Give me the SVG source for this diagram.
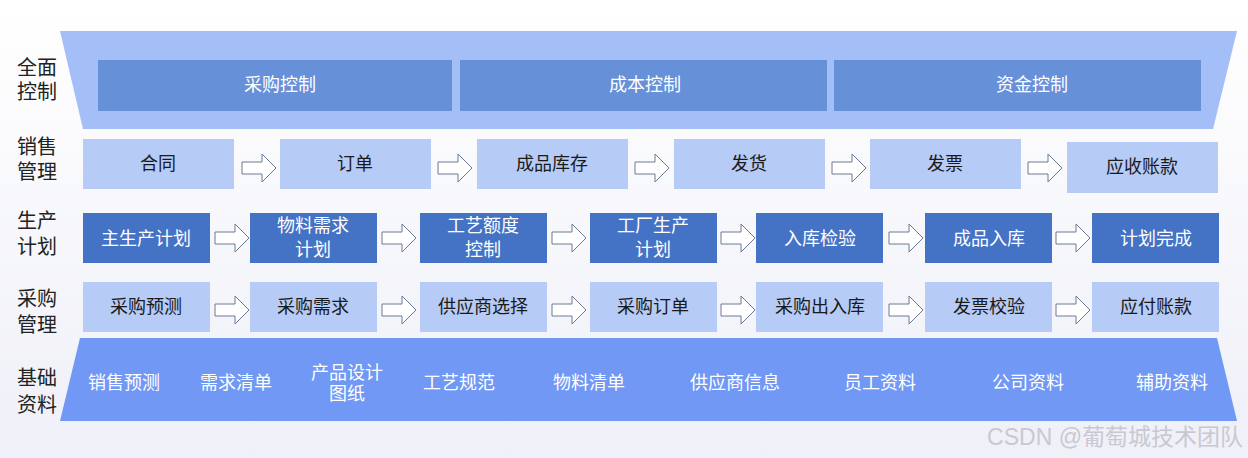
<svg xmlns="http://www.w3.org/2000/svg" xmlns:xlink="http://www.w3.org/1999/xlink" width="1248" height="458" viewBox="0 0 1248 458">
<style>
text{font-family:"Liberation Sans","Noto Sans CJK SC",sans-serif;text-anchor:middle;dominant-baseline:central}
.lbl{font-size:20px;fill:#222;text-anchor:start}
.ctl{fill:#6690d8}
.ctl-t{font-size:18px;fill:#fff}
.sale{fill:#b6cbf5}
.dk{fill:#4472c4}
.dk-t{font-size:18px;fill:#fff}
.lt-t{font-size:18px;fill:#1a1a1a}
.base-t{font-size:18px;fill:#fff}
.arr{fill:#fff;stroke:#6a7a96;stroke-width:1}
</style>
<defs>
<linearGradient id="bg" x1="0" y1="0" x2="0" y2="1">
<stop offset="0" stop-color="#ffffff"/>
<stop offset="1" stop-color="#eff0f8"/>
</linearGradient>
<path id="ar" d="M0,-6 H20 V-14 L34,0 L20,14 V6 H0 Z"/>
</defs>
<rect width="1248" height="458" fill="url(#bg)"/>

<g id="labels">
<text class="lbl" x="17" y="68">全面</text><text class="lbl" x="17" y="92">控制</text>
<text class="lbl" x="17" y="147">销售</text><text class="lbl" x="17" y="172">管理</text>
<text class="lbl" x="17" y="221">生产</text><text class="lbl" x="17" y="247">计划</text>
<text class="lbl" x="17" y="299">采购</text><text class="lbl" x="17" y="325">管理</text>
<text class="lbl" x="17" y="378">基础</text><text class="lbl" x="17" y="405">资料</text>
</g>

<g id="control">
<polygon points="60,31 1237,31 1213,129 83,129" fill="#a4bef8"/>
<g id="n-caigoukongzhi"><rect class="ctl" x="98" y="60" width="354" height="51"/><text class="ctl-t" x="280" y="85">采购控制</text></g>
<g id="n-chengbenkongzhi"><rect class="ctl" x="460" y="60" width="367" height="51"/><text class="ctl-t" x="645" y="85">成本控制</text></g>
<g id="n-zijinkongzhi"><rect class="ctl" x="834" y="60" width="367" height="51"/><text class="ctl-t" x="1032" y="85">资金控制</text></g>
</g>

<g id="sales">
<g id="n-hetong"><rect class="sale" x="83" y="139" width="151" height="50"/><text class="lt-t" x="158" y="164">合同</text></g>
<g id="n-dingdan"><rect class="sale" x="280" y="139" width="151" height="50"/><text class="lt-t" x="355" y="164">订单</text></g>
<g id="n-chengpinkucun"><rect class="sale" x="477" y="139" width="151" height="50"/><text class="lt-t" x="552" y="164">成品库存</text></g>
<g id="n-fahuo"><rect class="sale" x="674" y="139" width="151" height="50"/><text class="lt-t" x="749" y="164">发货</text></g>
<g id="n-fapiao"><rect class="sale" x="870" y="139" width="151" height="50"/><text class="lt-t" x="945" y="164">发票</text></g>
<g id="n-yingshou"><rect class="sale" x="1067" y="142" width="151" height="51"/><text class="lt-t" x="1142" y="167">应收账款</text></g>
</g>

<g id="production">
<g id="n-zhushengchan"><rect class="dk" x="83" y="213" width="127" height="50"/><text class="dk-t" x="146" y="239">主生产计划</text></g>
<g id="n-wuliao"><rect class="dk" x="250" y="213" width="127" height="50"/><text class="dk-t" x="313" y="226">物料需求</text><text class="dk-t" x="313" y="250">计划</text></g>
<g id="n-gongyi"><rect class="dk" x="420" y="213" width="127" height="50"/><text class="dk-t" x="483" y="226">工艺额度</text><text class="dk-t" x="483" y="250">控制</text></g>
<g id="n-gongchang"><rect class="dk" x="590" y="213" width="127" height="50"/><text class="dk-t" x="653" y="226">工厂生产</text><text class="dk-t" x="653" y="250">计划</text></g>
<g id="n-rukujianyan"><rect class="dk" x="756" y="213" width="127" height="50"/><text class="dk-t" x="820" y="239">入库检验</text></g>
<g id="n-chengpinruku"><rect class="dk" x="925" y="213" width="127" height="50"/><text class="dk-t" x="989" y="239">成品入库</text></g>
<g id="n-jihuawancheng"><rect class="dk" x="1092" y="213" width="127" height="50"/><text class="dk-t" x="1156" y="239">计划完成</text></g>
</g>

<g id="purchase">
<g id="n-caigouyuce"><rect class="sale" x="83" y="282" width="127" height="50"/><text class="lt-t" x="146" y="307">采购预测</text></g>
<g id="n-caigouxuqiu"><rect class="sale" x="250" y="282" width="127" height="50"/><text class="lt-t" x="313" y="307">采购需求</text></g>
<g id="n-gongyingshang"><rect class="sale" x="420" y="282" width="127" height="50"/><text class="lt-t" x="483" y="307">供应商选择</text></g>
<g id="n-caigoudingdan"><rect class="sale" x="590" y="282" width="127" height="50"/><text class="lt-t" x="653" y="307">采购订单</text></g>
<g id="n-caigouchuruku"><rect class="sale" x="756" y="282" width="127" height="50"/><text class="lt-t" x="820" y="307">采购出入库</text></g>
<g id="n-fapiaojiaoyan"><rect class="sale" x="925" y="282" width="127" height="50"/><text class="lt-t" x="989" y="307">发票校验</text></g>
<g id="n-yingfu"><rect class="sale" x="1092" y="282" width="127" height="50"/><text class="lt-t" x="1156" y="307">应付账款</text></g>
</g>

<g id="connectors">
<use xlink:href="#ar" class="arr" x="242" y="168"/>
<use xlink:href="#ar" class="arr" x="438" y="168"/>
<use xlink:href="#ar" class="arr" x="635" y="168"/>
<use xlink:href="#ar" class="arr" x="832" y="168"/>
<use xlink:href="#ar" class="arr" x="1028" y="168"/>
<use xlink:href="#ar" class="arr" x="215" y="238"/>
<use xlink:href="#ar" class="arr" x="382" y="238"/>
<use xlink:href="#ar" class="arr" x="552" y="238"/>
<use xlink:href="#ar" class="arr" x="721" y="238"/>
<use xlink:href="#ar" class="arr" x="889" y="238"/>
<use xlink:href="#ar" class="arr" x="1056" y="238"/>
<use xlink:href="#ar" class="arr" x="215" y="310"/>
<use xlink:href="#ar" class="arr" x="382" y="310"/>
<use xlink:href="#ar" class="arr" x="552" y="310"/>
<use xlink:href="#ar" class="arr" x="721" y="310"/>
<use xlink:href="#ar" class="arr" x="889" y="310"/>
<use xlink:href="#ar" class="arr" x="1056" y="310"/>
</g>

<g id="base">
<polygon points="80,338 1217,338 1237,421 60,421" fill="#7098f4"/>
<text class="base-t" x="124" y="383">销售预测</text>
<text class="base-t" x="236" y="383">需求清单</text>
<text class="base-t" x="347" y="373">产品设计</text>
<text class="base-t" x="347" y="394">图纸</text>
<text class="base-t" x="459" y="383">工艺规范</text>
<text class="base-t" x="589" y="383">物料清单</text>
<text class="base-t" x="735" y="383">供应商信息</text>
<text class="base-t" x="880" y="383">员工资料</text>
<text class="base-t" x="1028" y="383">公司资料</text>
<text class="base-t" x="1172" y="383">辅助资料</text>
</g>

<text x="1243" y="437" style="font-size:23px;fill:#c8c9d0;text-anchor:end">CSDN @葡萄城技术团队</text>
</svg>
